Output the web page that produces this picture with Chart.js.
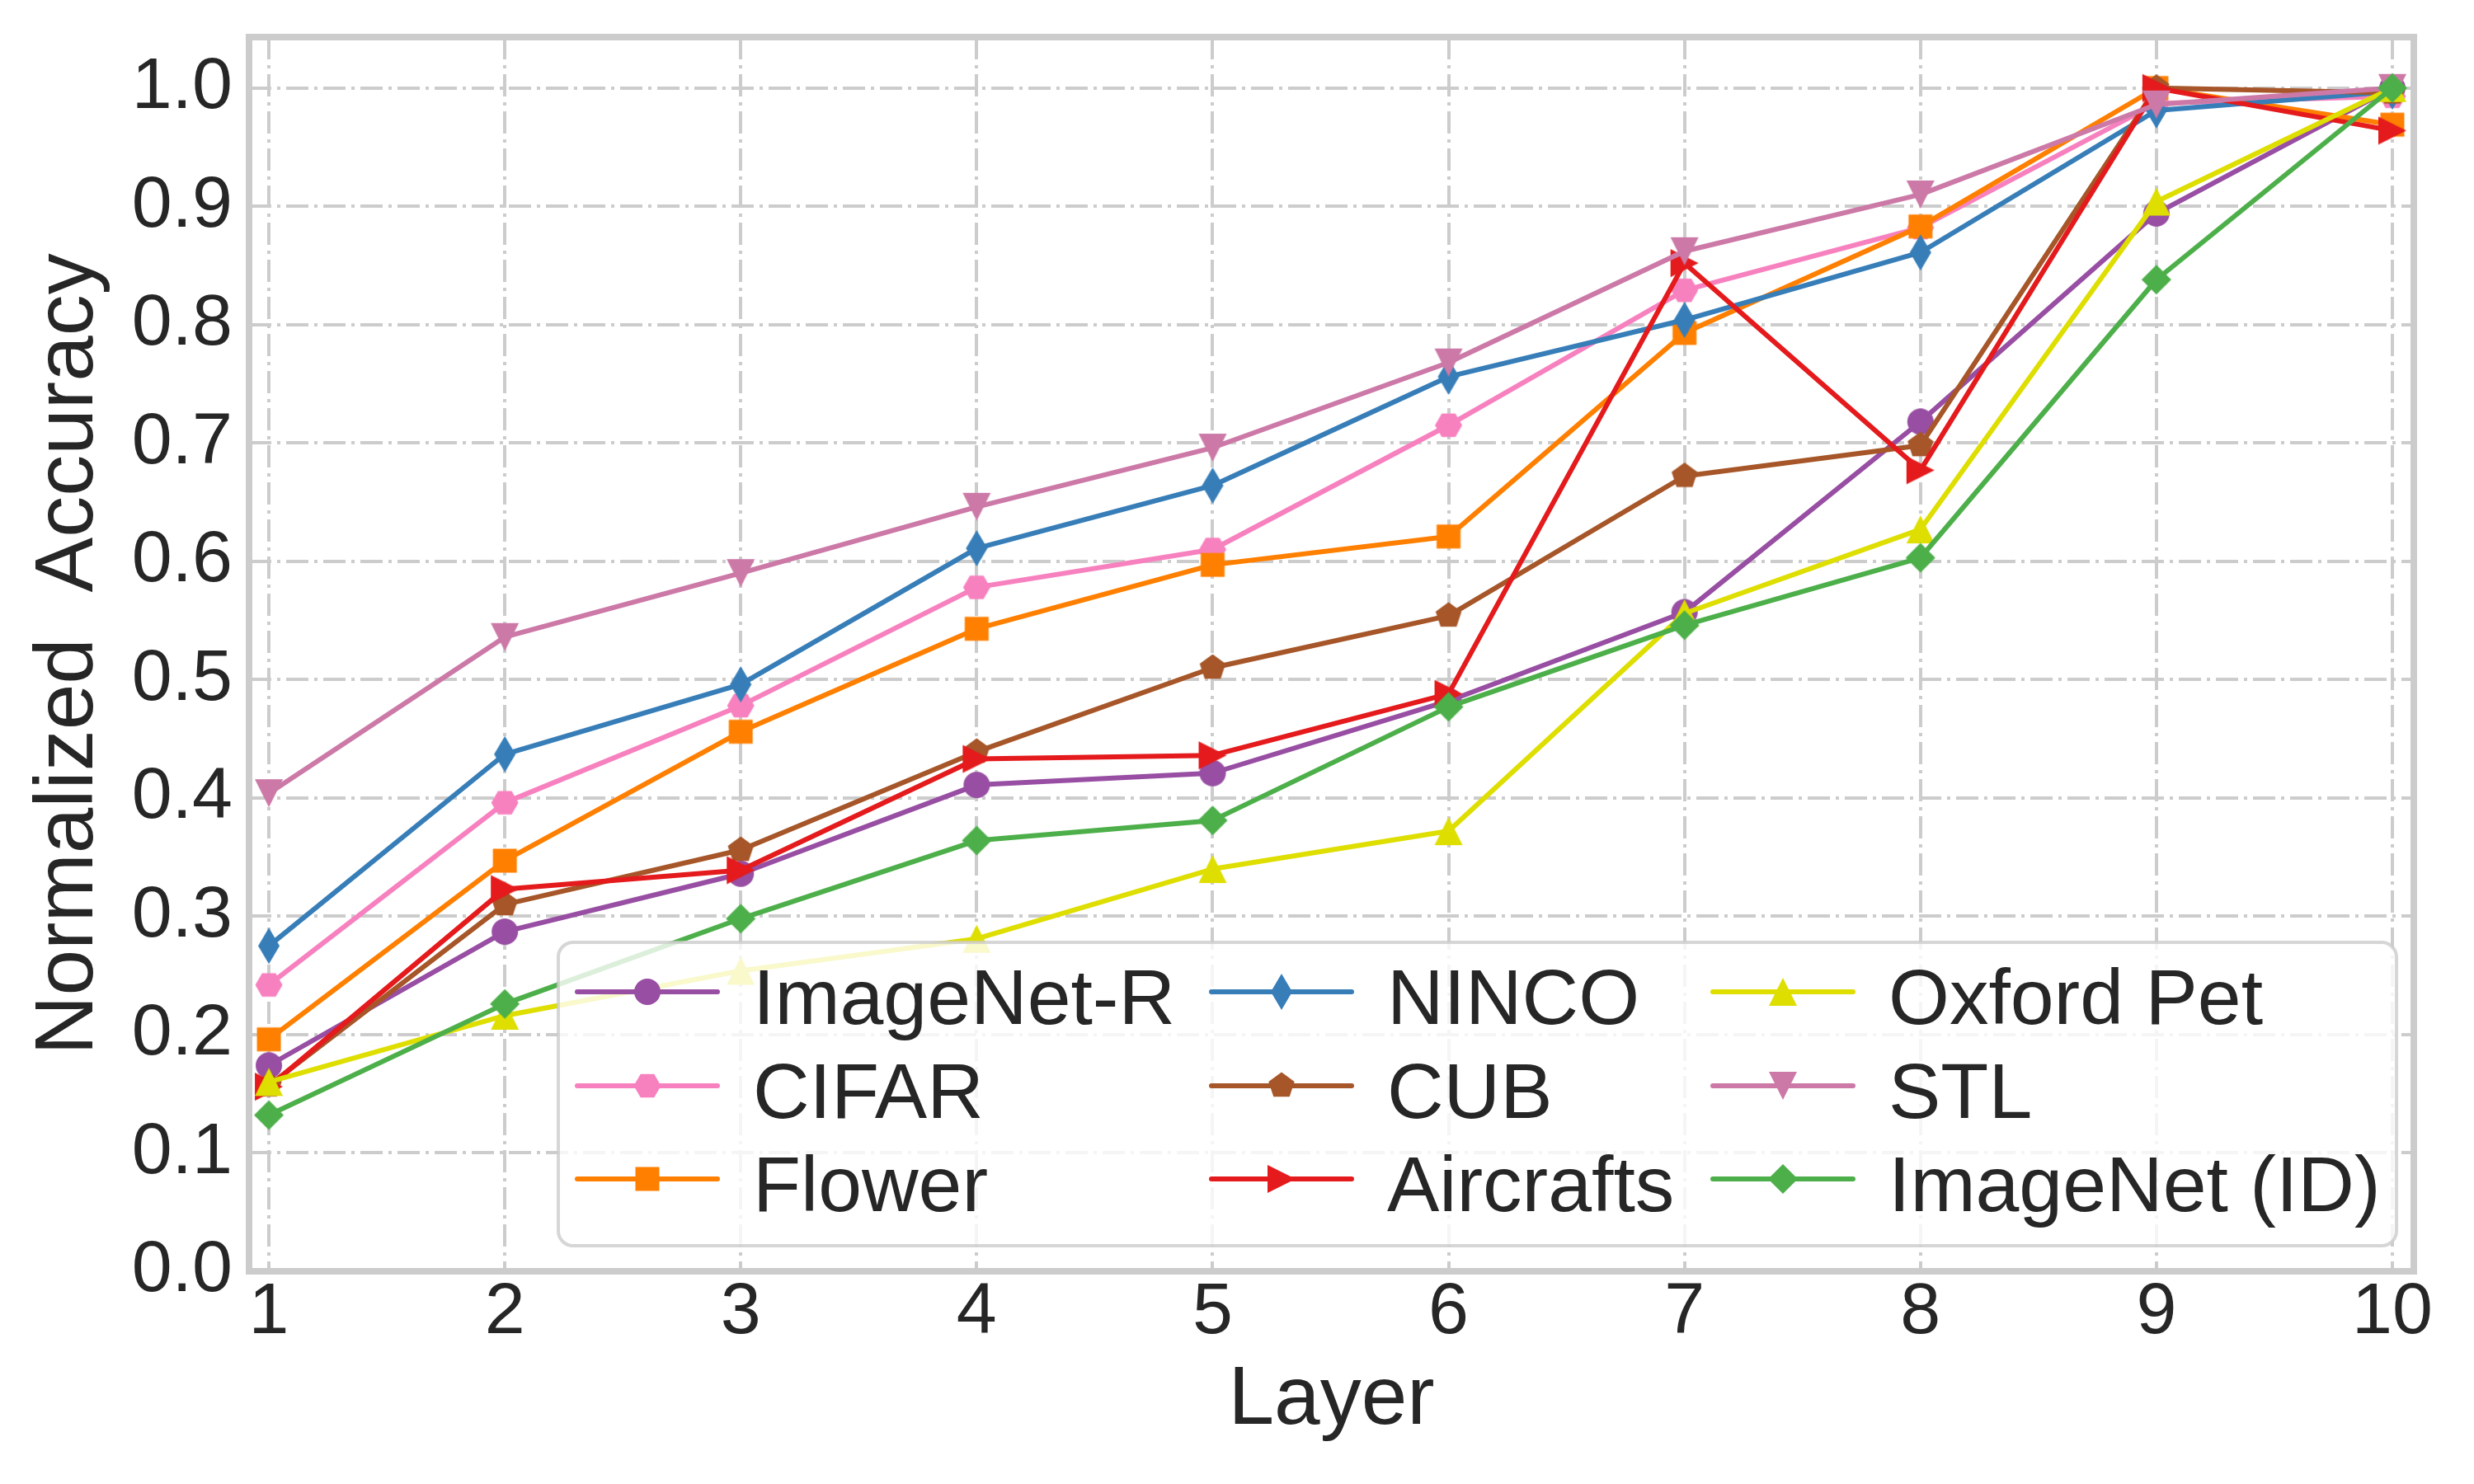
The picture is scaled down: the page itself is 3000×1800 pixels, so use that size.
<!DOCTYPE html>
<html>
<head>
<meta charset="utf-8">
<script src="https://cdn.jsdelivr.net/npm/chart.js@4.4.1/dist/chart.umd.min.js"></script>
<style>
  html, body { margin: 0; padding: 0; background: #ffffff; }
  #wrap { width: 3000px; height: 1800px; }
</style>
</head>
<body>
<div id="wrap"><canvas id="chart" width="3000" height="1800"></canvas></div>
<script>
// values
const layers = [1, 2, 3, 4, 5, 6, 7, 8, 9, 10];
const yTicks = [0.0, 0.1, 0.2, 0.3, 0.4, 0.5, 0.6, 0.7, 0.8, 0.9, 1.0];

const imagenetR = [0.174, 0.287, 0.336, 0.411, 0.421, 0.482, 0.557, 0.718, 0.894, 1.000];
const cifar     = [0.242, 0.396, 0.478, 0.578, 0.610, 0.715, 0.829, 0.882, 0.987, 0.993];
const flower    = [0.196, 0.347, 0.456, 0.543, 0.597, 0.621, 0.793, 0.883, 1.000, 0.969];
const ninco     = [0.275, 0.437, 0.496, 0.611, 0.664, 0.756, 0.804, 0.861, 0.981, 0.997];
const cub       = [0.157, 0.310, 0.356, 0.439, 0.510, 0.554, 0.672, 0.698, 1.000, 0.996];
const aircrafts = [0.156, 0.323, 0.339, 0.433, 0.436, 0.488, 0.852, 0.677, 1.000, 0.964];
const oxfordPet = [0.160, 0.216, 0.254, 0.281, 0.340, 0.372, 0.556, 0.627, 0.904, 1.000];
const stl       = [0.404, 0.536, 0.590, 0.646, 0.696, 0.768, 0.862, 0.910, 0.986, 1.000];
const imagenet  = [0.132, 0.226, 0.298, 0.364, 0.381, 0.477, 0.546, 0.603, 0.838, 1.000];

const seriesNames  = ['ImageNet-R', 'CIFAR', 'Flower', 'NINCO', 'CUB', 'Aircrafts', 'Oxford Pet', 'STL', 'ImageNet (ID)'];
const seriesValues = [imagenetR, cifar, flower, ninco, cub, aircrafts, oxfordPet, stl, imagenet];

const FONT = '"Liberation Sans", Arial, sans-serif';
const TEXT = '#262626';
const GRID = '#cccccc';

// marker images (matplotlib-like shapes)
function polyMarker(color, pts, sx, sy) {
  const hw = Math.ceil(sx) + 2, hh = Math.ceil(sy) + 2;
  const c = document.createElement('canvas');
  c.width = hw * 2; c.height = hh * 2;
  const g = c.getContext('2d');
  g.fillStyle = color;
  g.beginPath();
  pts.forEach(([x, y], i) => {
    if (i === 0) g.moveTo(hw + x * sx, hh + y * sy);
    else g.lineTo(hw + x * sx, hh + y * sy);
  });
  g.closePath();
  g.fill();
  return c;
}
function circleMarker(color, r) {
  const h = Math.ceil(r) + 2;
  const c = document.createElement('canvas');
  c.width = h * 2; c.height = h * 2;
  const g = c.getContext('2d');
  g.fillStyle = color;
  g.beginPath();
  g.arc(h, h, r, 0, Math.PI * 2);
  g.fill();
  return c;
}
function ngon(n, startDeg) {
  const pts = [];
  for (let k = 0; k < n; k++) {
    const a = (startDeg + k * 360 / n) * Math.PI / 180;
    pts.push([Math.cos(a), Math.sin(a)]);
  }
  return pts;
}
const square   = [[-1, -1], [1, -1], [1, 1], [-1, 1]];
const diamond  = [[0, -1], [1, 0], [0, 1], [-1, 0]];
const triUp    = [[0, -1], [1, 1], [-1, 1]];
const triDown  = [[0, 1], [1, -1], [-1, -1]];
const triRight = [[1, 0], [-1, -1], [-1, 1]];

const colors = ['#984ea3', '#f781bf', '#ff7f00', '#377eb8', '#a65628', '#e41a1c', '#dede00', '#cc79a7', '#4daf4a'];
const markers = [
  circleMarker(colors[0], 16),
  polyMarker(colors[1], ngon(6, 0), 16.5, 16.5),
  polyMarker(colors[2], square, 14.5, 14.5),
  polyMarker(colors[3], diamond, 13, 22),
  polyMarker(colors[4], ngon(5, -90), 16.5, 16.5),
  polyMarker(colors[5], triRight, 17, 17),
  polyMarker(colors[6], triUp, 17, 17),
  polyMarker(colors[7], triDown, 17, 17),
  polyMarker(colors[8], diamond, 18, 18)
];

const n = seriesNames.length;
const datasets = seriesNames.map((name, i) => ({
  label: name,
  data: layers.map((x, j) => ({ x: x, y: seriesValues[i][j] })),
  borderColor: colors[i],
  backgroundColor: colors[i],
  borderWidth: 6,
  borderJoinStyle: 'round',
  borderCapStyle: 'round',
  pointStyle: markers[i],
  pointRadius: 16,
  pointHoverRadius: 16,
  tension: 0,
  order: n - 1 - i
}));

// frame + matplotlib style legend drawn over the lines
const frameAndLegend = {
  id: 'frameAndLegend',
  afterDatasetsDraw(chart) {
    const ctx = chart.ctx;
    const ca = chart.chartArea;
    ctx.save();
    ctx.strokeStyle = GRID;
    ctx.lineWidth = 8;
    ctx.strokeRect(ca.left, ca.top, ca.right - ca.left, ca.bottom - ca.top);

    const right = ca.right - 21, bottom = ca.bottom - 31;
    const left = right - 2229, top = bottom - 368;
    const r = 18;
    ctx.beginPath();
    ctx.moveTo(left + r, top);
    ctx.lineTo(right - r, top);
    ctx.arcTo(right, top, right, top + r, r);
    ctx.lineTo(right, bottom - r);
    ctx.arcTo(right, bottom, right - r, bottom, r);
    ctx.lineTo(left + r, bottom);
    ctx.arcTo(left, bottom, left, bottom - r, r);
    ctx.lineTo(left, top + r);
    ctx.arcTo(left, top, left + r, top, r);
    ctx.closePath();
    ctx.fillStyle = 'rgba(255,255,255,0.8)';
    ctx.fill();
    ctx.strokeStyle = 'rgba(204,204,204,0.8)';
    ctx.lineWidth = 4;
    ctx.stroke();

    const colX = [23, 792, 1400];
    const rowY = [60, 174, 287];
    ctx.font = '95px ' + FONT;
    ctx.textBaseline = 'alphabetic';
    ctx.textAlign = 'left';
    chart.data.datasets.forEach((ds, i) => {
      const x0 = left + colX[Math.floor(i / 3)];
      const y0 = top + rowY[i % 3];
      ctx.strokeStyle = ds.borderColor;
      ctx.lineWidth = 6;
      ctx.lineCap = 'round';
      ctx.beginPath();
      ctx.moveTo(x0, y0);
      ctx.lineTo(x0 + 170, y0);
      ctx.stroke();
      const img = ds.pointStyle;
      ctx.drawImage(img, x0 + 85 - img.width / 2, y0 - img.height / 2);
      ctx.fillStyle = TEXT;
      ctx.fillText(ds.label, x0 + 213, y0 + 39);
    });
    ctx.restore();
  }
};

new Chart(document.getElementById('chart'), {
  type: 'line',
  data: { datasets: datasets },
  options: {
    responsive: false,
    animation: false,
    devicePixelRatio: 1,
    events: [],
    layout: { padding: { left: 0, right: 73, top: 45, bottom: 0 } },
    plugins: { legend: { display: false }, tooltip: { enabled: false } },
    scales: {
      x: {
        type: 'linear',
        min: 0.916,
        max: 10.091,
        afterBuildTicks: s => { s.ticks = layers.map(v => ({ value: v })); },
        afterFit: s => { s.height = 258; },
        ticks: {
          font: { family: FONT, size: 88, lineHeight: 1.2 },
          color: TEXT,
          padding: -2,
          maxRotation: 0,
          callback: v => String(v)
        },
        grid: { color: GRID, lineWidth: 4, drawTicks: false },
        border: { display: false, dash: [27, 7, 4, 7] },
        title: {
          display: true,
          text: 'Layer',
          color: TEXT,
          font: { family: FONT, size: 100, lineHeight: 1.2 },
          padding: { top: 0, bottom: 41 }
        }
      },
      y: {
        type: 'linear',
        min: 0,
        max: 1.043,
        afterBuildTicks: s => { s.ticks = yTicks.map(v => ({ value: v })); },
        afterFit: s => { s.width = 302; },
        ticks: {
          font: { family: FONT, size: 88, lineHeight: 0.25 },
          color: TEXT,
          padding: 20,
          callback: v => Number(v).toFixed(1)
        },
        grid: { color: GRID, lineWidth: 4, drawTicks: false },
        border: { display: false, dash: [27, 7, 4, 7] },
        title: {
          display: true,
          text: 'Normalized  Accuracy',
          color: TEXT,
          font: { family: FONT, size: 100, lineHeight: 1.2 },
          padding: { top: 24, bottom: 0 }
        }
      }
    }
  },
  plugins: [frameAndLegend]
});
</script>
</body>
</html>
